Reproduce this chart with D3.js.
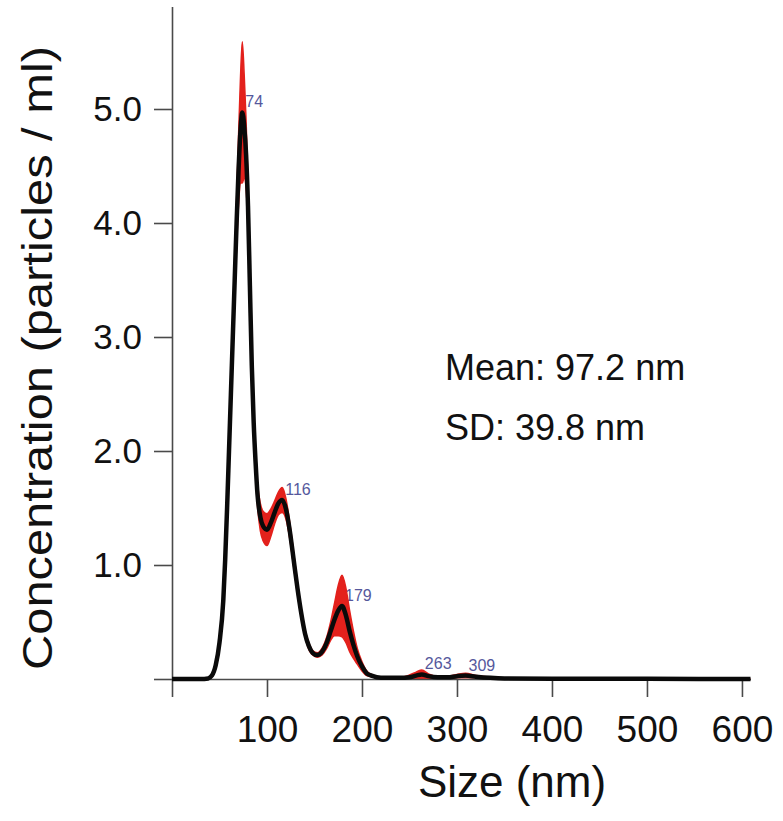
<!DOCTYPE html>
<html lang="en">
<head>
  <meta charset="UTF-8">
  <title>Size distribution</title>
  <script src="https://d3js.org/d3.v7.min.js"></script>
  <style>
    body { margin: 0; background: #fff; }
    text { font-family: "Liberation Sans", Arial, Helvetica, sans-serif; }
  </style>
</head>
<body>
  <div id="chart"></div>
  <script>
    // particle size (nm) and mean concentration, with error half-width
    const sizes = [0, 30, 38, 42, 46, 50, 54, 56, 58, 60, 62, 64, 66, 68, 70, 72, 74, 76, 78, 80, 82, 84, 86, 88, 90, 93, 96, 100,
      104, 108, 112, 116, 120, 124, 128, 132, 136, 140, 144, 148, 153, 158, 163, 167, 171, 175, 179, 183, 187, 191, 195,
      200, 205, 210, 220, 240, 250, 257, 263, 270, 280, 290, 300, 309, 320, 335, 350, 400, 500, 609];
    const concentration = [0, 0, 0.005, 0.03, 0.12, 0.32, 0.69, 1.05, 1.5, 2.0, 2.5, 3.0, 3.5, 4.0, 4.45, 4.8, 4.97, 4.85, 4.6, 4.15, 3.45, 2.75, 2.25, 1.9, 1.62, 1.42, 1.34, 1.31,
      1.37, 1.46, 1.54, 1.57, 1.49, 1.30, 1.05, 0.80, 0.58, 0.40, 0.29, 0.23, 0.21, 0.24, 0.32, 0.42, 0.52, 0.60, 0.64, 0.56, 0.42, 0.30, 0.20,
      0.11, 0.05, 0.03, 0.01, 0.01, 0.015, 0.03, 0.04, 0.025, 0.015, 0.015, 0.025, 0.03, 0.02, 0.01, 0.005, 0.003, 0.002, 0];
    const errors = [0, 0, 0, 0.01, 0.02, 0.03, 0.05, 0.06, 0.07, 0.08, 0.1, 0.12, 0.15, 0.2, 0.3, 0.45, 0.62, 0.45, 0.3, 0.2, 0.15, 0.12, 0.1, 0.1, 0.1, 0.12, 0.13, 0.14,
      0.12, 0.1, 0.1, 0.11, 0.09, 0.07, 0.06, 0.05, 0.04, 0.03, 0.03, 0.02, 0.02, 0.03, 0.05, 0.08, 0.14, 0.22, 0.27, 0.24, 0.18, 0.12, 0.07,
      0.04, 0.02, 0.01, 0.005, 0.005, 0.02, 0.03, 0.04, 0.02, 0.01, 0.01, 0.015, 0.02, 0.01, 0.005, 0, 0, 0, 0];

    const peakSizes = [74, 116, 179, 263, 309];
    const xTicks = [0, 100, 200, 300, 400, 500, 600];
    const yTicks = [0, 1, 2, 3, 4, 5];
    const statLines = ["Mean: 97.2 nm", "SD: 39.8 nm"];

    const width = 783, height = 821;
    const svg = d3.select('#chart').append('svg')
      .attr('width', width)
      .attr('height', height);

    const x = d3.scaleLinear().domain([0, 609]).range([172, 750.5]);
    const y = d3.scaleLinear().domain([0, 5.9]).range([679, 6.4]);

    const data = sizes.map((s, i) => ({ s: s, v: concentration[i], e: errors[i] }));

    // peak labels sit under the curve
    svg.selectAll('.peak')
      .data(peakSizes)
      .enter()
      .append('text')
      .attr('class', 'peak')
      .attr('x', d => x(d) + 3)
      .attr('y', d => y(concentration[sizes.indexOf(d)]) - 5)
      .attr('font-size', 16)
      .attr('fill', '#55589c')
      .text(d => d);

    // error band
    const band = d3.area()
      .x(d => x(d.s))
      .y0(d => y(Math.max(0, d.v - d.e)))
      .y1(d => y(d.v + d.e))
      .curve(d3.curveMonotoneX);

    svg.append('path')
      .datum(data)
      .attr('d', band)
      .attr('fill', '#e3211c')
      .attr('stroke', '#e3211c')
      .attr('stroke-width', 1.5);

    // axes
    const axisColor = '#4a4a4a';
    const xAxis = svg.append('g')
      .attr('transform', 'translate(0,679)')
      .call(d3.axisBottom(x).tickValues(xTicks).tickSize(18).tickSizeOuter(0).tickPadding(19)
        .tickFormat(d => d === 0 ? '' : d));
    const yAxis = svg.append('g')
      .attr('transform', 'translate(172,0)')
      .call(d3.axisLeft(y).tickValues(yTicks).tickSize(18).tickSizeOuter(0).tickPadding(12)
        .tickFormat(d => d === 0 ? '' : d3.format('.1f')(d)));

    [xAxis, yAxis].forEach(g => {
      g.selectAll('path, line').attr('stroke', axisColor).attr('stroke-width', 1.6);
      g.selectAll('text').attr('fill', '#111').attr('font-family', '"Liberation Sans", Arial, sans-serif');
    });
    xAxis.selectAll('text').attr('font-size', 37);
    yAxis.selectAll('text').attr('font-size', 35);

    // mean line
    const line = d3.line()
      .x(d => x(d.s))
      .y(d => y(d.v))
      .curve(d3.curveMonotoneX);

    svg.append('path')
      .datum(data)
      .attr('d', line)
      .attr('fill', 'none')
      .attr('stroke', '#0a0a0a')
      .attr('stroke-width', 4.5)
      .attr('stroke-linejoin', 'round');

    // axis titles
    svg.append('text')
      .attr('x', 512)
      .attr('y', 797)
      .attr('text-anchor', 'middle')
      .attr('font-size', 44)
      .attr('fill', '#111')
      .text('Size (nm)');

    svg.append('text')
      .attr('transform', 'translate(52,358) rotate(-90)')
      .attr('text-anchor', 'middle')
      .attr('font-size', 42)
      .attr('textLength', 624)
      .attr('lengthAdjust', 'spacingAndGlyphs')
      .attr('fill', '#111')
      .text('Concentration (particles / ml)');

    // summary stats
    svg.selectAll('.stat')
      .data(statLines)
      .enter()
      .append('text')
      .attr('class', 'stat')
      .attr('x', 445)
      .attr('y', (d, i) => 380 + i * 60)
      .attr('font-size', 36)
      .attr('fill', '#111')
      .text(d => d);
  </script>
</body>
</html>
